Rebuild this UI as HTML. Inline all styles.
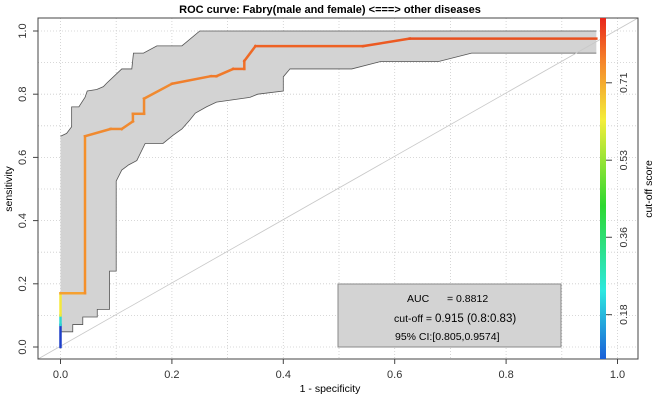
<!DOCTYPE html>
<html><head><meta charset="utf-8">
<style>
html,body{margin:0;padding:0;background:#fff;}
svg{display:block;font-family:"Liberation Sans",Arial,sans-serif;}
</style></head>
<body>
<svg id="chart" width="660" height="400" viewBox="0 0 660 400">
<text x="330" y="13" text-anchor="middle" font-size="11" font-weight="bold">ROC curve: Fabry(male and female) &lt;===&gt; other diseases</text>
<g id="grid"></g>
<g id="band"></g>
<line x1="38" y1="359" x2="638" y2="18" stroke="#c8c8c8" stroke-width="0.8"/>
<g id="curve"></g>
<g id="axes"></g>
<defs><linearGradient id="cg" x1="0" y1="0" x2="0" y2="1">
<stop offset="0" stop-color="#e8261a"/><stop offset="0.12" stop-color="#f5802a"/><stop offset="0.3" stop-color="#f4ee3a"/><stop offset="0.55" stop-color="#2dd830"/><stop offset="0.8" stop-color="#2de8e0"/><stop offset="1" stop-color="#1a5fd8"/></linearGradient></defs>
<rect x="600" y="18" width="6" height="341" fill="url(#cg)"/>
<g id="cbar"></g>
<text transform="translate(652,189) rotate(-90)" text-anchor="middle" font-size="10.5">cut-off score</text>
<rect x="338" y="284" width="223" height="63" fill="#d3d3d3" stroke="#888" stroke-width="1"/>
<text x="407" y="302" font-size="10.5">AUC</text>
<text x="447" y="302" font-size="10.5">= 0.8812</text>
<text x="394" y="322" font-size="10.5">cut-off = <tspan font-size="11.5">0.915 (0.8:0.83)</tspan></text>
<text x="395" y="340" font-size="10.5">95% CI:[0.805,0.9574]</text>
<text x="330" y="392" text-anchor="middle" font-size="10.5">1 - specificity</text>
<text transform="translate(12,189) rotate(-90)" text-anchor="middle" font-size="10.5">sensitivity</text>
</svg>
<script>
const curveFpr=[0,0,0,0,0.044,0.044,0.09,0.11,0.13,0.13,0.15,0.15,0.2,0.27,0.28,0.31,0.33,0.33,0.35,0.543,0.627,0.962];
const curveTpr=[0,0.07,0.1,0.17,0.17,0.667,0.69,0.69,0.714,0.738,0.738,0.786,0.833,0.857,0.857,0.88,0.88,0.905,0.952,0.952,0.976,0.976];
const curveColors=["#1e3fc8","#30d8d0","#f5e83a","#f5a030","#f5902a","#f08a30","#f08a30","#f08a30","#f08a30","#f08a30","#f08a30","#f08a30","#f07f2c","#f07a2a","#f07a2a","#f07028","#f07028","#ee6a26","#ee6224","#ec5a22","#e8501f"];
const upperFpr=[0,0.011,0.02,0.02,0.033,0.044,0.048,0.065,0.077,0.083,0.095,0.11,0.128,0.131,0.149,0.173,0.218,0.227,0.25,0.962];
const upperTpr=[0.667,0.676,0.697,0.76,0.76,0.79,0.81,0.815,0.824,0.835,0.855,0.88,0.88,0.93,0.93,0.953,0.953,0.966,1.0,1.0];
const lowerFpr=[0.962,0.738,0.678,0.574,0.523,0.412,0.4,0.4,0.354,0.34,0.28,0.262,0.242,0.232,0.218,0.202,0.184,0.152,0.137,0.122,0.11,0.1,0.1,0.088,0.088,0.066,0.066,0.04,0.04,0.022,0.022,0];
const lowerTpr=[0.93,0.93,0.903,0.903,0.88,0.88,0.855,0.81,0.8,0.79,0.775,0.76,0.74,0.718,0.69,0.67,0.644,0.644,0.59,0.576,0.56,0.525,0.24,0.24,0.119,0.119,0.095,0.095,0.071,0.071,0.048,0.048];
const xTicks=[0,0.2,0.4,0.6,0.8,1.0];
const yTicks=[0,0.2,0.4,0.6,0.8,1.0];
const cbarTicks=["0.71","0.53","0.36","0.18"];
const cbarTickPos=[0.81,0.583,0.357,0.13];
const NS="http://www.w3.org/2000/svg";
const X=v=>60.5+v*557, Y=v=>347-v*316;
function mk(t,a,p){const e=document.createElementNS(NS,t);for(const k in a)e.setAttribute(k,a[k]);p.appendChild(e);return e;}
const grid=document.getElementById('grid');
for(let i=0;i<=10;i++){const v=i/10;
 const gx=mk('line',{x1:X(v),x2:X(v),y1:18,y2:359,stroke:'#ccc','stroke-dasharray':'1,2','stroke-width':0.8},grid);
 
 const gy=mk('line',{x1:38,x2:638,y1:Y(v),y2:Y(v),stroke:'#ccc','stroke-dasharray':'1,2','stroke-width':0.8},grid);
 }
const band=document.getElementById('band');
let pts=upperFpr.map((f,i)=>X(f)+','+Y(upperTpr[i])).concat(lowerFpr.map((f,i)=>X(f)+','+Y(lowerTpr[i])));
const bp=mk('polygon',{points:pts.join(' '),fill:'#d3d3d3',stroke:'none'},band);

const ul=mk('polyline',{points:upperFpr.map((f,i)=>X(f)+','+Y(upperTpr[i])).join(' '),fill:'none',stroke:'#555','stroke-width':0.8},band);

const ll=mk('polyline',{points:lowerFpr.map((f,i)=>X(f)+','+Y(lowerTpr[i])).join(' '),fill:'none',stroke:'#555','stroke-width':0.8},band);

const curve=document.getElementById('curve');
for(let i=0;i<curveFpr.length-1;i++){
 const s=mk('line',{x1:X(curveFpr[i]),y1:Y(curveTpr[i]),x2:X(curveFpr[i+1]),y2:Y(curveTpr[i+1]),stroke:curveColors[i],'stroke-width':2.5,'stroke-linecap':'square'},curve);
 }
const axes=document.getElementById('axes');
const fr=mk('rect',{x:38,y:18,width:600,height:341,fill:'none',stroke:'#444','stroke-width':1},axes);

xTicks.forEach(v=>{const t=mk('line',{x1:X(v),x2:X(v),y1:359,y2:364,stroke:'#444'},axes);
 
 const l=mk('text',{x:X(v),y:378,'text-anchor':'middle','font-size':11,fill:'#333'},axes);l.textContent=v.toFixed(1);
 });
yTicks.forEach(v=>{const t=mk('line',{x1:33,x2:38,y1:Y(v),y2:Y(v),stroke:'#444'},axes);
 
 const l=mk('text',{transform:`translate(26,${Y(v)}) rotate(-90)`,'text-anchor':'middle','font-size':11,fill:'#333'},axes);l.textContent=v.toFixed(1);
 });
const cb=document.getElementById('cbar');
cbarTicks.forEach((s,i)=>{const y=359-cbarTickPos[i]*341;
 const t=mk('line',{x1:606,x2:612,y1:y,y2:y,stroke:'#444'},cb);
 
 const l=mk('text',{transform:`translate(627,${y}) rotate(-90)`,'text-anchor':'middle','font-size':10.5,fill:'#333'},cb);l.textContent=s;
 });
</script>
</body></html>
